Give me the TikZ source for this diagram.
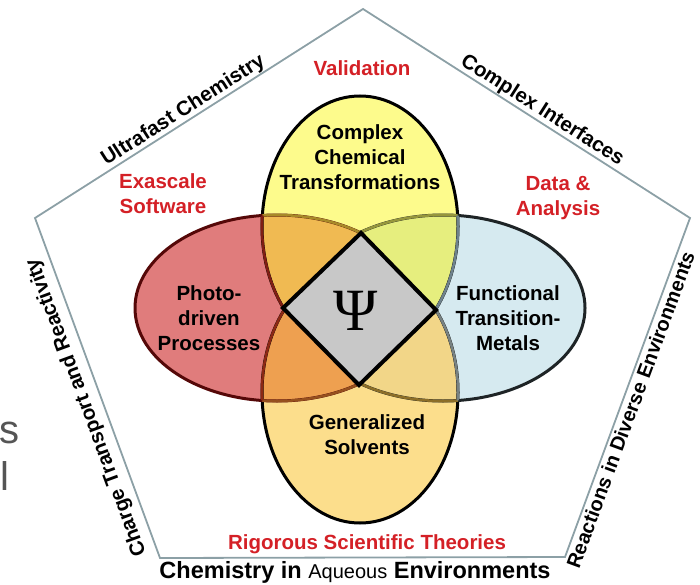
\documentclass[tikz,border=0pt]{standalone}
\usepackage{fontspec}
\setmainfont{Liberation Sans}
\newfontfamily\psifont{Liberation Serif}
\definecolor{pentcol}{RGB}{140,160,166}
\definecolor{txtred}{RGB}{212,32,38}
\definecolor{cR}{RGB}{224,124,124}
\definecolor{cY}{RGB}{253,251,140}
\definecolor{cB}{RGB}{214,234,240}
\definecolor{cO}{RGB}{252,222,140}
\definecolor{cRY}{RGB}{240,186,82}
\definecolor{cRO}{RGB}{238,160,80}
\definecolor{cYB}{RGB}{230,238,126}
\definecolor{cBO}{RGB}{242,214,136}
\definecolor{lRinY}{RGB}{168,138,40}
\definecolor{lYinR}{RGB}{128,30,20}
\definecolor{lBinY}{RGB}{150,150,60}
\definecolor{lYinB}{RGB}{110,130,140}
\definecolor{lRinO}{RGB}{150,80,30}
\definecolor{lOinR}{RGB}{140,40,20}
\definecolor{lBinO}{RGB}{140,110,40}
\definecolor{lOinB}{RGB}{120,130,130}
\definecolor{dmd}{RGB}{200,200,200}
\definecolor{greytxt}{RGB}{85,85,85}
\begin{document}
\begin{tikzpicture}[x=1pt,y=-1pt,
  lab/.style={font=\fontsize{20.5}{25}\selectfont\bfseries, align=center, text=black, inner sep=0pt},
  redlab/.style={lab, text=txtred},
  side/.style={font=\fontsize{20.5}{24}\selectfont\bfseries, sloped, inner sep=1pt},
  edge/.style={draw=pentcol, line width=1.8pt, line join=miter},
  ring/.style={line width=3pt},
  inner/.style={line width=2.6pt}]
\useasboundingbox (0,0) rectangle (700,585);

% cropped neighbouring letters
\node[anchor=base west, inner sep=0pt, text=greytxt, font=\fontsize{40}{40}\selectfont] (gs) at (-1,443) {s};
\node[anchor=base west, inner sep=0pt, text=greytxt, font=\fontsize{40}{40}\selectfont] (gl) at (0,490) {l};

% pentagon
\coordinate (T) at (363,9);
\coordinate (UR) at (690,218);
\coordinate (LR) at (565,557);
\coordinate (LL) at (160,558);
\coordinate (UL) at (35,218);
\draw[edge] (T) -- (UR) -- (LR) -- (LL) -- (UL) -- cycle;

% base fills
\begin{scope}\clip (0,0) rectangle (700,309);
  \fill[cY] (360,226.5) ellipse [x radius=98, y radius=130.5];\end{scope}
\begin{scope}\clip (0,309) rectangle (700,585);
  \fill[cO] (360,392.5) ellipse [x radius=98, y radius=130.5];\end{scope}
\begin{scope}\clip (0,0) rectangle (360,585);
  \fill[cR] (277,308) ellipse [x radius=142, y radius=93];\end{scope}
\begin{scope}\clip (360,0) rectangle (700,585);
  \fill[cB] (443,308) ellipse [x radius=142, y radius=93];\end{scope}

% overlaps
\begin{scope}\clip (0,0) rectangle (360,309);
  \clip (360,226.5) ellipse [x radius=98, y radius=130.5];
  \fill[cRY] (277,308) ellipse [x radius=142, y radius=93];\end{scope}
\begin{scope}\clip (360,0) rectangle (700,309);
  \clip (360,226.5) ellipse [x radius=98, y radius=130.5];
  \fill[cYB] (443,308) ellipse [x radius=142, y radius=93];\end{scope}
\begin{scope}\clip (0,309) rectangle (360,585);
  \clip (360,392.5) ellipse [x radius=98, y radius=130.5];
  \fill[cRO] (277,308) ellipse [x radius=142, y radius=93];\end{scope}
\begin{scope}\clip (360,309) rectangle (700,585);
  \clip (360,392.5) ellipse [x radius=98, y radius=130.5];
  \fill[cBO] (443,308) ellipse [x radius=142, y radius=93];\end{scope}

% outlines
\begin{scope}\clip (0,0) rectangle (700,309);
  \draw[ring, black] (360,226.5) ellipse [x radius=98, y radius=130.5];\end{scope}
\begin{scope}\clip (0,309) rectangle (700,585);
  \draw[ring, black] (360,392.5) ellipse [x radius=98, y radius=130.5];\end{scope}
\begin{scope}\clip (0,0) rectangle (360,585);
  \draw[ring, draw={rgb,255:red,85;green,8;blue,8}] (277,308) ellipse [x radius=142, y radius=93];\end{scope}
\begin{scope}\clip (360,0) rectangle (700,585);
  \draw[ring, draw={rgb,255:red,30;green,36;blue,38}] (443,308) ellipse [x radius=142, y radius=93];\end{scope}

% tinted inner outlines
\begin{scope}\clip (0,0) rectangle (360,309);
  \clip (360,226.5) ellipse [x radius=98, y radius=130.5];
  \draw[inner, lRinY] (277,308) ellipse [x radius=142, y radius=93];\end{scope}
\begin{scope}\clip (0,0) rectangle (360,309);
  \clip (277,308) ellipse [x radius=142, y radius=93];
  \draw[inner, lYinR] (360,226.5) ellipse [x radius=98, y radius=130.5];\end{scope}
\begin{scope}\clip (360,0) rectangle (700,309);
  \clip (360,226.5) ellipse [x radius=98, y radius=130.5];
  \draw[inner, lBinY] (443,308) ellipse [x radius=142, y radius=93];\end{scope}
\begin{scope}\clip (360,0) rectangle (700,309);
  \clip (443,308) ellipse [x radius=142, y radius=93];
  \draw[inner, lYinB] (360,226.5) ellipse [x radius=98, y radius=130.5];\end{scope}
\begin{scope}\clip (0,309) rectangle (360,585);
  \clip (360,392.5) ellipse [x radius=98, y radius=130.5];
  \draw[inner, lRinO] (277,308) ellipse [x radius=142, y radius=93];\end{scope}
\begin{scope}\clip (0,309) rectangle (360,585);
  \clip (277,308) ellipse [x radius=142, y radius=93];
  \draw[inner, lOinR] (360,392.5) ellipse [x radius=98, y radius=130.5];\end{scope}
\begin{scope}\clip (360,309) rectangle (700,585);
  \clip (360,392.5) ellipse [x radius=98, y radius=130.5];
  \draw[inner, lBinO] (443,308) ellipse [x radius=142, y radius=93];\end{scope}
\begin{scope}\clip (360,309) rectangle (700,585);
  \clip (443,308) ellipse [x radius=142, y radius=93];
  \draw[inner, lOinB] (360,392.5) ellipse [x radius=98, y radius=130.5];\end{scope}

% central diamond
\coordinate (DT) at (361,233);
\coordinate (DR) at (436,310);
\coordinate (DB) at (359,385);
\coordinate (DL) at (283,308);
\draw[line width=4pt, line join=miter, fill=dmd] (DT) -- (DR) -- (DB) -- (DL) -- cycle;
\node[inner sep=0pt, font=\psifont\fontsize{60}{60}\selectfont] (psi) at (356,311) {Ψ};

% ellipse labels
\node[lab] (cct) at (360,157) {Complex\\Chemical\\Transformations};
\node[lab] (pdp) at (209,318) {Photo-\\driven\\Processes};
\node[lab] (ftm) at (508,318) {Functional\\Transition-\\Metals};
\node[lab] (gs2) at (367,435) {Generalized\\Solvents};

% red labels
\node[redlab] (val) at (362,68) {Validation};
\node[redlab] (exa) at (163,194) {Exascale\\Software};
\node[redlab] (data) at (558,198) {Data \&\\Analysis};
\node[redlab] (rig) at (367,544) {Rigorous Scientific Theories};

% side labels
\path (UL) -- (T) node[side, above, pos=0.47] (ufc) {Ultrafast Chemistry};
\path (T) -- (UR) node[side, above, pos=0.53] (cif) {Complex Interfaces};
\path (LL) -- (UL) node[side, allow upside down, above=6pt, pos=0.46] (ctr) {Charge Transport and Reactivity};
\path (LR) -- (UR) node[side, font=\fontsize{20}{24}\selectfont\bfseries, below=2pt, pos=0.445] (rde) {Reactions in Diverse Environments};

\node[anchor=base, inner sep=0pt] (cae) at (355,578)
  {\fontsize{23.5}{24}\selectfont\bfseries Chemistry in {\mdseries\fontsize{20}{24}\selectfont Aqueous} Environments};
\end{tikzpicture}
\end{document}
